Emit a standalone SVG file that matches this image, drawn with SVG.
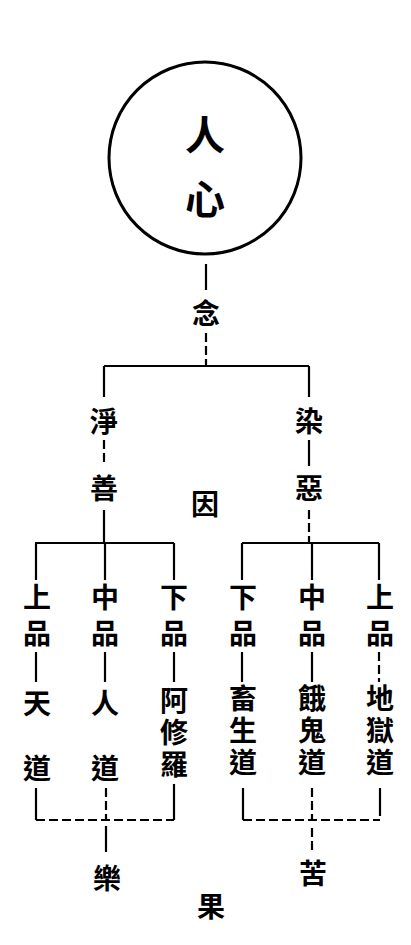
<svg xmlns="http://www.w3.org/2000/svg" width="411" height="945" viewBox="0 0 411 945">
<style>
.t{font-family:"Noto Sans CJK TC","Noto Sans CJK SC",sans-serif;font-weight:bold;font-size:28px;fill:#000;text-anchor:middle;dominant-baseline:central}
.v{writing-mode:vertical-rl;text-orientation:upright}
.p{letter-spacing:8px}
.s{letter-spacing:4px}
.big{font-size:40px}
.c{stroke:#000;stroke-width:2.2;fill:none;stroke-linecap:butt}
.d{stroke-dasharray:9 4}
</style>
<rect width="411" height="945" fill="#fff"/>
<g id="connectors">
<line class="c" x1="206" y1="264" x2="206" y2="290"/>
<line class="c d" x1="206" y1="333" x2="206" y2="365"/>
<line class="c" x1="104" y1="366" x2="309" y2="366"/>
<line class="c" x1="104" y1="366" x2="104" y2="397"/>
<line class="c d" x1="104" y1="440" x2="104" y2="466"/>
<line class="c" x1="104" y1="510" x2="104" y2="543"/>
<line class="c" x1="309" y1="366" x2="309" y2="397"/>
<line class="c" x1="309" y1="440" x2="309" y2="466"/>
<line class="c d" x1="309" y1="510" x2="309" y2="543"/>
<line class="c" x1="35" y1="543" x2="174" y2="543"/>
<line class="c" x1="242" y1="543" x2="379" y2="543"/>
<line class="c" x1="36" y1="543" x2="36" y2="580"/>
<line class="c" x1="105" y1="543" x2="105" y2="580"/>
<line class="c" x1="174" y1="543" x2="174" y2="580"/>
<line class="c" x1="242" y1="543" x2="242" y2="580"/>
<line class="c" x1="312" y1="543" x2="312" y2="580"/>
<line class="c" x1="379" y1="543" x2="379" y2="580"/>
<line class="c" x1="36" y1="652" x2="36" y2="682"/>
<line class="c" x1="105" y1="652" x2="105" y2="682"/>
<line class="c" x1="174" y1="652" x2="174" y2="682"/>
<line class="c" x1="242" y1="652" x2="242" y2="682"/>
<line class="c" x1="312" y1="652" x2="312" y2="682"/>
<line class="c d" x1="379" y1="652" x2="379" y2="682"/>
<line class="c" x1="36" y1="788" x2="36" y2="820"/>
<line class="c d" x1="106" y1="788" x2="106" y2="820"/>
<line class="c" x1="174" y1="784" x2="174" y2="820"/>
<line class="c" x1="243" y1="788" x2="243" y2="820"/>
<line class="c d" x1="312" y1="788" x2="312" y2="820"/>
<line class="c" x1="380" y1="788" x2="380" y2="816"/>
<line class="c d" stroke-width="1.5" x1="36" y1="820" x2="174" y2="820"/>
<line class="c d" stroke-width="1.5" x1="243" y1="820" x2="380" y2="820"/>
<line class="c" x1="106" y1="826" x2="106" y2="852"/>
<line class="c d" x1="312" y1="828" x2="312" y2="852"/>
</g>
<g id="renxin">
<circle cx="205" cy="158" r="96" fill="none" stroke="#000" stroke-width="3"/>
<text class="t big" x="205" y="133">人</text>
<text class="t big" x="205" y="197">心</text>
</g>
<g id="nian"><text class="t" x="206" y="312">念</text></g>
<g id="jingshan"><text class="t" x="104" y="420">淨</text><text class="t" x="104" y="487">善</text></g>
<g id="rane"><text class="t" x="309" y="420">染</text><text class="t" x="309" y="487">惡</text></g>
<g id="yin"><text class="t" x="205" y="503">因</text></g>
<g id="tiandao"><text class="t v p" x="37" y="619">上品</text><text class="t" x="37" y="702">天</text><text class="t" x="37" y="767">道</text></g>
<g id="rendao"><text class="t v p" x="105" y="619">中品</text><text class="t" x="105" y="702">人</text><text class="t" x="105" y="767">道</text></g>
<g id="axiuluo"><text class="t v p" x="174" y="619">下品</text><text class="t v s" x="174" y="734">阿修羅</text></g>
<g id="chusheng"><text class="t v p" x="243" y="619">下品</text><text class="t v s" x="243" y="732">畜生道</text></g>
<g id="egui"><text class="t v p" x="312" y="619">中品</text><text class="t v s" x="312" y="732">餓鬼道</text></g>
<g id="diyu"><text class="t v p" x="380" y="619">上品</text><text class="t v s" x="380" y="732">地獄道</text></g>
<g id="le"><text class="t" x="107" y="877">樂</text></g>
<g id="ku"><text class="t" x="313" y="872">苦</text></g>
<g id="guo"><text class="t" x="211" y="905">果</text></g>
</svg>
